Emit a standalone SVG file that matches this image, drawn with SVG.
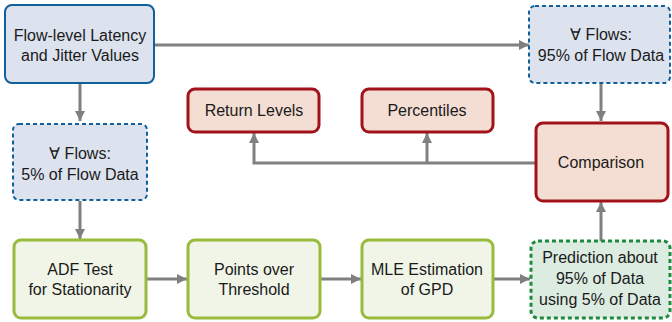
<svg xmlns="http://www.w3.org/2000/svg" width="672" height="322" viewBox="0 0 672 322">
<defs>
<style>
.t{font-family:"Liberation Sans",Arial,Helvetica,sans-serif;font-size:16px;fill:#1a1a1a;text-anchor:middle}
.blue{fill:#dce3ef;stroke:#11609c;stroke-width:2}
.bluedash{fill:#dce3ef;stroke:#11609c;stroke-width:2;stroke-dasharray:4 3}
.green{fill:#f0f5e8;stroke:#98bb3c;stroke-width:3}
.greendash{fill:#dcece1;stroke:#1f8a3f;stroke-width:3;stroke-dasharray:4 3}
.red{fill:#f4ddd3;stroke:#a2121b;stroke-width:3}
.c{fill:none;stroke:#808080;stroke-width:3}
</style>
<marker id="ah" viewBox="0 0 10 10" refX="10" refY="5" markerWidth="10" markerHeight="10" markerUnits="userSpaceOnUse" orient="auto">
<path d="M0,0 L10,5 L0,10 z" fill="#808080"/>
</marker>
</defs>
<g id="connectors">
<path class="c" d="M155,45 L529,45" marker-end="url(#ah)"/>
<path class="c" d="M80,83 L80,121" marker-end="url(#ah)"/>
<path class="c" d="M80,201 L80,239" marker-end="url(#ah)"/>
<path class="c" d="M146,279 L187,279" marker-end="url(#ah)"/>
<path class="c" d="M320,279 L361,279" marker-end="url(#ah)"/>
<path class="c" d="M493,279 L530,279" marker-end="url(#ah)"/>
<path class="c" d="M601,241 L601,202" marker-end="url(#ah)"/>
<path class="c" d="M601,83 L601,121" marker-end="url(#ah)"/>
<path class="c" d="M536,163 L254,163 L254,133" marker-end="url(#ah)"/>
<path class="c" d="M427,163 L427,133" marker-end="url(#ah)"/>
</g>
<g id="n-flow">
<rect class="blue" x="5" y="5" width="149" height="78" rx="7"/>
<text class="t" x="80" y="41">Flow-level Latency</text>
<text class="t" x="80" y="61">and Jitter Values</text>
</g>
<g id="n-5pct">
<rect class="bluedash" x="13" y="124" width="134" height="76" rx="6"/>
<text class="t" x="80" y="159">∀ Flows:</text>
<text class="t" x="80" y="180">5% of Flow Data</text>
</g>
<g id="n-95pct">
<rect class="bluedash" x="529" y="6" width="141" height="77" rx="6"/>
<text class="t" x="601" y="40">∀ Flows:</text>
<text class="t" x="601" y="61">95% of Flow Data</text>
</g>
<g id="n-adf">
<rect class="green" x="14" y="240" width="132" height="78" rx="7"/>
<text class="t" x="80" y="275">ADF Test</text>
<text class="t" x="80" y="295">for Stationarity</text>
</g>
<g id="n-pot">
<rect class="green" x="188" y="240" width="132" height="78" rx="7"/>
<text class="t" x="254" y="275">Points over</text>
<text class="t" x="254" y="295">Threshold</text>
</g>
<g id="n-mle">
<rect class="green" x="362" y="240" width="131" height="78" rx="7"/>
<text class="t" x="427" y="275">MLE Estimation</text>
<text class="t" x="427" y="295">of GPD</text>
</g>
<g id="n-pred">
<rect class="greendash" x="531" y="241" width="139" height="77" rx="7"/>
<text class="t" x="600" y="263">Prediction about</text>
<text class="t" x="600" y="284">95% of Data</text>
<text class="t" x="600" y="305">using 5% of Data</text>
</g>
<g id="n-return">
<rect class="red" x="188" y="89" width="131" height="43" rx="7"/>
<text class="t" x="254" y="116">Return Levels</text>
</g>
<g id="n-pct">
<rect class="red" x="362" y="89" width="131" height="43" rx="7"/>
<text class="t" x="427" y="116">Percentiles</text>
</g>
<g id="n-comp">
<rect class="red" x="536" y="123" width="132" height="78" rx="7"/>
<text class="t" x="601" y="168">Comparison</text>
</g>
</svg>
